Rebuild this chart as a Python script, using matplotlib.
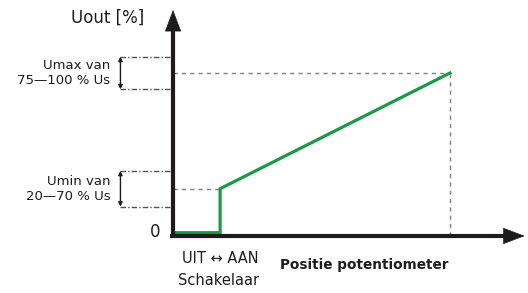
import matplotlib
matplotlib.use("Agg")
import matplotlib.pyplot as plt

# chart data (potentiometer position 0..100, output in %)
pos = [0, 17, 17, 100]
uout = [2, 2, 29, 100]
switch_pos = 17
umax_band = [90, 110]
umin_band = [18, 40]
umin_level = 29
umax_level = 100

green = '#1a9a46'
black = '#1e1b1c'
grey = '#7f7f7f'
dark_grey = '#555555'

plt.rcParams['font.family'] = ['DejaVu Sans']

fig = plt.figure(figsize=(5.28, 2.93), dpi=100)
ax = fig.add_axes([0, 0, 1, 1])
ax.set_xlim(-62.5, 128.2)
ax.set_ylim(-35, 144.8)
ax.axis('off')

# guide lines to the end point
ax.plot([0, pos[-1]], [umax_level, umax_level], ls=(0, (3, 3)), color=grey, lw=1)
ax.plot([pos[-1], pos[-1]], [0, umax_level], ls=(0, (3, 3)), color=grey, lw=1)
ax.plot([0, switch_pos], [umin_level, umin_level], ls=(0, (3, 3)), color=grey, lw=1)

# range bands on the left
for band in (umax_band, umin_band):
    for b in band:
        ax.plot([-19, 0], [b, b], ls=(0, (4, 1.5, 1, 1.5)), color=dark_grey, lw=1)
    ax.annotate('', xy=(-19, band[1]), xytext=(-19, band[0]),
                arrowprops=dict(arrowstyle='<|-|>', color=black, lw=1,
                                mutation_scale=6, shrinkA=0, shrinkB=0))

# output curve
ax.plot(pos, uout, color=green, lw=2.3, solid_joinstyle='miter')

# axes: shaft + arrow head
ax.plot([0, 0], [-1.3, 130], color=black, lw=3, solid_capstyle='butt')
ax.plot([-1, 120], [0, 0], color=black, lw=3, solid_capstyle='butt')
head = dict(arrowstyle='-|>,head_length=1.45,head_width=0.55',
            color=black, lw=0.5, shrinkA=0, shrinkB=0)
ax.annotate('', xy=(0, 138.7), xytext=(0, 120), arrowprops=head)
ax.annotate('', xy=(127, 0), xytext=(110, 0), arrowprops=head)

# texts
ax.text(-23.8, 133.7, 'Uout [%]', ha='center', va='center', fontsize=12, color=black)
ax.text(-22.7, sum(umax_band) / 2, 'Umax van\n75\u2014100 % Us', ha='right', va='center',
        multialignment='right', fontsize=9.5, color=black, linespacing=1.2)
ax.text(-22.7, sum(umin_band) / 2, 'Umin van\n20\u201470 % Us', ha='right', va='center',
        multialignment='right', fontsize=9.5, color=black, linespacing=1.2)
ax.text(-4.7, 2.5, '0', ha='right', va='center', fontsize=12, color=black)
ax.text(switch_pos, -14, 'UIT \u2194 AAN', ha='center', va='center', fontsize=10.5, color=black)
ax.text(switch_pos - 0.7, -27.6, 'Schakelaar', ha='center', va='center', fontsize=10.5, color=black)
ax.text(38.6, -17.8, 'Positie potentiometer', ha='left', va='center', fontsize=9.8,
        fontweight='bold', color=black)

fig.savefig('out.png', dpi=100)
